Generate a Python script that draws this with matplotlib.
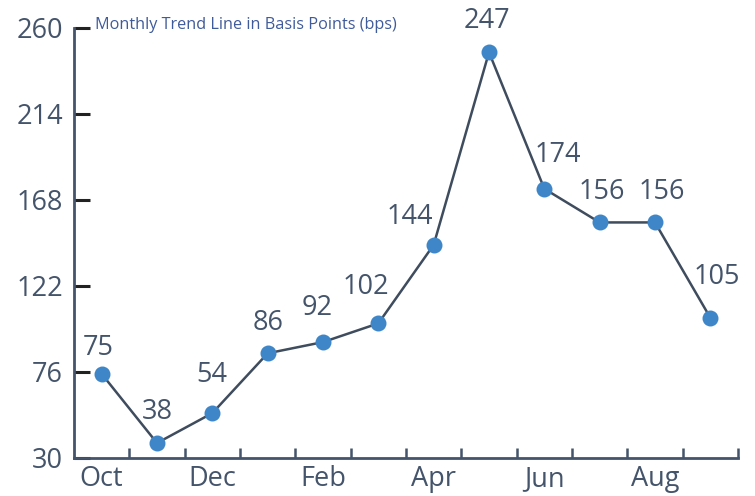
import numpy as np
import matplotlib.pyplot as plt

plt.rcParams['font.family'] = ['Open Sans', 'DejaVu Sans']

months = ['Oct', 'Nov', 'Dec', 'Jan', 'Feb', 'Mar', 'Apr', 'May', 'Jun', 'Jul', 'Aug', 'Sep']
bps = [75, 38, 54, 86, 92, 102, 144, 247, 174, 156, 156, 105]
y_ticks = [30, 76, 122, 168, 214, 260]
title = 'Monthly Trend Line in Basis Points (bps)'

# label nudges in pixels (dx, dy)
label_offsets = [(-3, 26), (0, 31), (-1, 38), (0, 30), (-6, 34), (-12, 36),
                 (-24, 28), (-2, 31), (13, 34), (2, 30), (7, 30), (6, 41)]

text_col = '#44546a'
line_col = '#3e4c5e'
dot_col = '#3f86c8'

fig = plt.figure(figsize=(7.55, 4.96), dpi=100)
ax = fig.add_axes([74 / 755, 1 - 458 / 496, 664 / 755, 430 / 496])

x = np.arange(len(months))
ax.plot(x, bps, color=line_col, lw=1.8, zorder=2)
ax.plot(x, bps, 'o', color=dot_col, ms=11.5, mec='none', zorder=3)

for xi, v, (dx, dy) in zip(x, bps, label_offsets):
    ax.annotate(str(v), (xi, v), xytext=(dx, dy), textcoords='offset pixels',
                ha='center', va='center', fontsize=19.5, color=text_col)

ax.set_xlim(-0.5, len(months) - 0.5)
ax.set_ylim(y_ticks[0], y_ticks[-1])

ax.set_yticks(y_ticks)
ax.tick_params(axis='y', direction='in', length=11.5, width=2.2, color='#222222',
               labelsize=19.5, labelcolor=text_col, pad=8)

ax.set_xticks(x[::2])
ax.set_xticklabels(months[::2])
ax.set_xticks(np.arange(len(months)) + 0.5, minor=True)
ax.tick_params(axis='x', which='major', length=0, labelsize=19.5, labelcolor=text_col, pad=5)
ax.tick_params(axis='x', which='minor', direction='in', length=7, width=1.8, color=text_col)

for side in ['top', 'right']:
    ax.spines[side].set_visible(False)
for side in ['left', 'bottom']:
    ax.spines[side].set_color(text_col)
    ax.spines[side].set_linewidth(2)

fig.text(95 / 755, 1 - 25 / 496, title, fontsize=11.7, color='#3f5b9a', va='center', ha='left')

fig.savefig('out.png', dpi=100)
